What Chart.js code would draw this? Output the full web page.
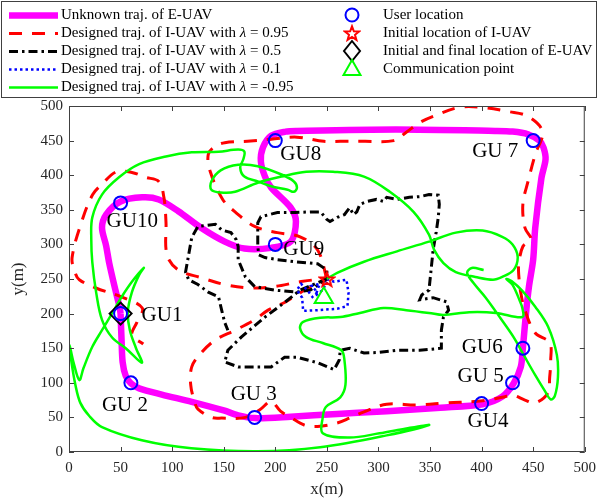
<!DOCTYPE html>
<html>
<head>
<meta charset="utf-8">
<script src="https://cdn.jsdelivr.net/npm/chart.js@4.4.0/dist/chart.umd.min.js"></script>
<style>
  html, body { margin: 0; padding: 0; background: #fff; }
</style>
</head>
<body>
<canvas id="trajChart" width="603" height="502"></canvas>
<script>
// ground users
const userNames = ['GU1', 'GU 2', 'GU 3', 'GU4', 'GU 5', 'GU6', 'GU 7', 'GU8', 'GU9', 'GU10'];
const userX = [50, 60, 180, 400, 430, 440, 450, 200, 200, 50];
const userY = [200, 100, 50, 70, 100, 150, 450, 450, 300, 360];

// special points
const iuavStart = [250, 250];
const euavStart = [50, 200];
const commPoint = [247, 223];

// unknown trajectory of the E-UAV
const euavPath = [[50,200],[51,160],[52,130],[55,110],[60,99],[68,92],[90,83],[119,72.5],[150,60],[164,53],[180,49],
  [215,51],[260,55],[308,59],[360,64],[401,69],[420,80],[431,99],[438,123],[440,150],[443,200],[446,240],[450,278],
  [452,324],[458,396],[462,423],[460,440],[456,450],[445,459],[430,463],[413,464],[317,466],[221,464],[210,463],
  [196,457],[188,440],[186,420],[190,398],[196,382],[215,353],[220,333],[215,304],[196,295],[170,294],[151,304],
  [128,324],[106,348],[87,365],[71,368],[50,362],[36,343],[32,324],[36,298],[39,273],[45,234],[49,210],[50,200]];

// designed I-UAV trajectory, lambda = 0.95
const path095 = [[250,250],[241,292],[224,311],[202,317],[180,326],[161,347],[149,365],[137,405],[135,430],[142,442],
  [151,447],[173,449],[196,452],[221,455],[247,449],[263,449],[286,449],[315,450],[327,462],[340,476],[353,485],
  [378,498],[401,498],[426,492],[445,485],[459,463],[452,430],[445,391],[440,358],[442,324],[448,307],[440,297],
  [436,271],[436,256],[438,230],[442,205],[452,172],[466,158],[467,133],[466,108],[464,85],[452,71],[442,75],
  [430,82],[420,79],[401,74],[366,71],[337,68],[308,69],[286,58],[272,49],[260,42],[241,37],[228,39],[215,50],
  [205,59],[196,73],[185,61],[171,50],[148,49],[138,50],[125,62],[122,71],[118,97],[119,123],[128,143],[142,162],
  [161,176],[180,191],[193,205],[209,216],[224,230],[241,243],[250,250],[224,246],[199,239],[176,237],[151,242],
  [128,252],[106,263],[95,285],[94,333],[92,368],[87,391],[74,397],[61,404],[46,405],[32,387],[23,372],[13,336],
  [3,281],[6,259],[10,249],[26,237],[51,224],[71,208],[66,188],[61,169],[72,156]];

// designed I-UAV trajectory, lambda = 0.5
const path05 = [[250,250],[224,234],[209,216],[190,195],[167,166],[154,147],[151,130],[164,123],[183,123],[196,123],
  [209,137],[221,137],[241,129],[257,119],[262,133],[263,147],[272,150],[286,143],[301,144],[318,147],[340,147],
  [361,150],[361,176],[363,195],[368,205],[366,217],[353,223],[340,220],[342,227],[349,234],[351,263],[353,292],
  [356,318],[358,339],[359,358],[358,371],[349,372],[340,369],[330,368],[318,365],[308,368],[305,362],[298,365],
  [289,362],[282,358],[279,347],[276,343],[272,353],[269,347],[267,343],[260,339],[253,333],[250,336],[244,347],
  [234,347],[219,346],[202,346],[186,340],[183,331],[183,314],[183,297],[184,285],[190,281],[202,278],[219,275],
  [241,272],[250,263],[250,250],[234,234],[221,231],[199,234],[180,239],[171,253],[164,278],[164,297],[162,307],
  [157,317],[148,321],[142,329],[125,326],[119,310],[116,285],[113,260],[116,249],[125,242],[135,231],[145,224],
  [148,205],[151,187],[154,176]];

// designed I-UAV trajectory, lambda = 0.1
const path01 = [[250,250],[257,246],[269,249],[271,230],[270,211],[260,207],[241,205],[227,204],[226,223],[221,234],
  [225,243],[231,234],[236,224],[241,231],[235,240],[243,243],[239,226],[246,234],[250,246]];

// designed I-UAV trajectory, lambda = -0.95
const pathM095 = [[250,250],[260,259],[286,275],[318,290],[349,304],[375,317],[401,320],[420,311],[430,300],[435,282],
  [431,263],[420,253],[411,249],[394,253],[375,260],[363,273],[354,292],[349,314],[334,347],[311,376],[286,398],
  [256,405],[230,405],[206,398],[183,389],[161,376],[147,375],[138,379],[138,391],[147,407],[164,415],[183,413],
  [206,401],[218,391],[221,382],[218,376],[212,379],[196,384],[183,391],[170,398],[166,411],[169,423],[170,434],
  [164,437],[145,434],[119,433],[94,427],[68,416],[48.5,397],[32,372],[22.6,339],[21.6,307],[22.6,274],[26.4,230],
  [32,191],[42,165],[55,150],[70.6,129],[65,150],[59,176],[57,202],[61,231],[68,256],[72.5,266],[61,246],[51,224],
  [42,201],[32,176],[22.6,152],[14,121],[10,104],[4.3,130],[0.5,155],[2.4,130],[6.2,97],[11,71],[19.7,52],[32,36],
  [70.6,17],[118.6,5.4],[183,1],[243.5,6.8],[308,24],[349,39],[327,34],[301,27],[272,21],[246,27],[246,50],[249,65],
  [263,79],[268,97],[267,133],[264,147],[246,157.5],[230,166],[224,179],[227,188],[243.5,194],[263,195],[282,201],
  [305,208],[327,205],[349,201],[363,198],[388,202],[414,201],[439.5,195],[439.5,208],[436.6,220],[430,241.6],
  [424,250],[429,247],[439.5,232.8],[452,210],[464.5,181],[473,140],[474,108],[471,81],[467,76],[461,89],[452,111],
  [442,137],[431,166],[418,194],[404,223],[392,244.5],[386,259],[390.5,266],[402,263]];

// axis ticks
const tickValues = [0, 50, 100, 150, 200, 250, 300, 350, 400, 450, 500];

const SERIF = '"Liberation Serif", "Times New Roman", serif';
const toXY = arr => arr.map(p => ({ x: p[0], y: p[1] }));

// red pentagram marker
function makeStar(size, color) {
    var c = document.createElement('canvas');
    c.width = size;
    c.height = size;
    var g = c.getContext('2d');
    var cx = size / 2, cy = size / 2 + 0.8, R = size / 2 - 1.5, r = R * 0.42;
    g.beginPath();
    for (var i = 0; i < 10; i++) {
        var a = -Math.PI / 2 + i * Math.PI / 5;
        var rr = i % 2 ? r : R;
        g.lineTo(cx + rr * Math.cos(a), cy + rr * Math.sin(a));
    }
    g.closePath();
    g.strokeStyle = color;
    g.lineWidth = 2;
    g.stroke();
    return c;
}
const starImg = makeStar(18, '#ff0000');

// label offsets (px) of the user names, relative to each circle
const labelDx = [21, -29, -24, -14, -55, -61, -61, 5, 8, -14];
const labelDy = [2, 23, -23, 18, -6, -1, 11, 14, 5, 19];

// text with an italic lambda, like the LaTeX legend
function drawLabel(ctx, text, x, y) {
    var parts = text.split('\u03bb');
    var normal = '15px ' + SERIF, italic = 'italic 15px ' + SERIF;
    ctx.font = normal;
    ctx.fillText(parts[0], x, y);
    if (parts.length < 2) return;
    x += ctx.measureText(parts[0]).width;
    ctx.font = italic;
    ctx.fillText('\u03bb', x, y);
    x += ctx.measureText('\u03bb').width;
    ctx.font = normal;
    ctx.fillText(parts[1], x, y);
}

// inward ticks, box, and user names
const boxPlugin = {
    id: 'matlabBox',
    afterDatasetsDraw(chart) {
        const ctx = chart.ctx;
        const a = chart.chartArea;
        const xs = chart.scales.x, ys = chart.scales.y;
        ctx.save();
        ctx.strokeStyle = '#404040';
        ctx.lineWidth = 1;
        ctx.setLineDash([]);
        ctx.strokeRect(a.left + 0.5, a.top + 0.5, a.right - a.left - 1, a.bottom - a.top - 1);
        ctx.beginPath();
        xs.ticks.forEach(function (t) {
            var px = Math.round(xs.getPixelForValue(t.value)) + 0.5;
            ctx.moveTo(px, a.bottom); ctx.lineTo(px, a.bottom - 5);
            ctx.moveTo(px, a.top); ctx.lineTo(px, a.top + 5);
        });
        ys.ticks.forEach(function (t) {
            var py = Math.round(ys.getPixelForValue(t.value)) + 0.5;
            ctx.moveTo(a.left, py); ctx.lineTo(a.left + 5, py);
            ctx.moveTo(a.right, py); ctx.lineTo(a.right - 5, py);
        });
        ctx.stroke();

        ctx.fillStyle = '#000';
        ctx.font = '21px ' + SERIF;
        ctx.textAlign = 'left';
        ctx.textBaseline = 'middle';
        userNames.forEach(function (name, i) {
            var px = xs.getPixelForValue(userX[i]) + labelDx[i];
            var py = ys.getPixelForValue(userY[i]) + labelDy[i];
            ctx.fillText(name, px, py);
        });
        ctx.restore();
    }
};

// legend box at the top
const legendPlugin = {
    id: 'boxLegend',
    afterDraw(chart) {
        const ctx = chart.ctx;
        const sets = chart.data.datasets;
        ctx.save();
        ctx.fillStyle = '#fff';
        ctx.fillRect(1, 1, 596, 96);
        ctx.strokeStyle = '#404040';
        ctx.lineWidth = 1;
        ctx.strokeRect(1.5, 1.5, 595, 96);

        ctx.textBaseline = 'middle';
        ctx.textAlign = 'left';
        const rows = [15, 33, 51, 69, 87];

        // line entries
        ['euav', 'l095', 'l05', 'l01', 'lm095'].forEach(function (key, i) {
            var d = sets.find(function (s) { return s.key === key; });
            var y = rows[i] + 0.5;
            ctx.strokeStyle = d.borderColor;
            ctx.lineWidth = d.borderWidth;
            ctx.setLineDash(d.borderDash || []);
            ctx.beginPath();
            ctx.moveTo(9, y);
            ctx.lineTo(58, y);
            ctx.stroke();
            ctx.setLineDash([]);
            ctx.fillStyle = '#000';
            drawLabel(ctx, d.label, 61, rows[i]);
        });

        // marker entries
        var mx = 352;
        ['users', 'start', 'euavStart', 'comm'].forEach(function (key, i) {
            var d = sets.find(function (s) { return s.key === key; });
            var y = rows[i];
            ctx.lineWidth = 2;
            ctx.strokeStyle = d.borderColor;
            ctx.beginPath();
            if (key === 'users') {
                ctx.arc(mx, y, 6.5, 0, Math.PI * 2);
                ctx.stroke();
            } else if (key === 'start') {
                ctx.drawImage(starImg, mx - 9, y - 9);
            } else if (key === 'euavStart') {
                ctx.moveTo(mx, y - 10); ctx.lineTo(mx + 8, y); ctx.lineTo(mx, y + 10); ctx.lineTo(mx - 8, y);
                ctx.closePath();
                ctx.stroke();
            } else {
                ctx.moveTo(mx, y - 9); ctx.lineTo(mx + 8.5, y + 6); ctx.lineTo(mx - 8.5, y + 6);
                ctx.closePath();
                ctx.stroke();
            }
            ctx.fillStyle = '#000';
            drawLabel(ctx, d.label, 383, y);
        });
        ctx.restore();
    }
};

const lineSet = (key, label, pts, color, width, dash, tension, order) => ({
    key: key,
    label: label,
    data: toXY(pts),
    showLine: true,
    borderColor: color,
    backgroundColor: color,
    borderWidth: width,
    borderDash: dash,
    tension: tension,
    pointRadius: 0,
    pointHoverRadius: 0,
    fill: false,
    order: order
});

const ctx = document.getElementById('trajChart').getContext('2d');
const chart = new Chart(ctx, {
    type: 'scatter',
    data: {
        datasets: [
            {
                key: 'users',
                label: 'User location',
                data: userX.map((x, i) => ({ x: x, y: userY[i] })),
                pointStyle: 'circle',
                pointRadius: 6.5,
                borderColor: '#0000ff',
                backgroundColor: 'rgba(0,0,0,0)',
                borderWidth: 2,
                order: 0
            },
            {
                key: 'start',
                label: 'Initial location of I-UAV',
                data: toXY([iuavStart]),
                pointStyle: starImg,
                pointRadius: 9,
                borderColor: '#ff0000',
                backgroundColor: 'rgba(0,0,0,0)',
                order: 0
            },
            {
                key: 'euavStart',
                label: 'Initial and final location of E-UAV',
                data: toXY([euavStart]),
                pointStyle: 'rectRot',
                pointRadius: 11,
                borderColor: '#000000',
                backgroundColor: 'rgba(0,0,0,0)',
                borderWidth: 2,
                order: 1
            },
            {
                key: 'comm',
                label: 'Communication point',
                data: toXY([commPoint]),
                pointStyle: 'triangle',
                pointRadius: 10.5,
                borderColor: '#00ff00',
                backgroundColor: 'rgba(0,0,0,0)',
                borderWidth: 2,
                order: 0
            },
            lineSet('lm095', 'Designed traj. of I-UAV with \u03bb = -0.95', pathM095, '#00ff00', 2.5, [], 0.35, 2),
            lineSet('l01', 'Designed traj. of I-UAV with \u03bb = 0.1', path01, '#0000ff', 2.5, [2.5, 3], 0, 3),
            lineSet('l05', 'Designed traj. of I-UAV with \u03bb = 0.5', path05, '#000000', 3, [9, 4, 2.5, 4], 0, 4),
            lineSet('l095', 'Designed traj. of I-UAV with \u03bb = 0.95', path095, '#ff0000', 3, [13, 10], 0.35, 5),
            lineSet('euav', 'Unknown traj. of E-UAV', euavPath, '#ff00ff', 6.5, [], 0.3, 6)
        ]
    },
    options: {
        responsive: false,
        animation: false,
        devicePixelRatio: 1,
        layout: { padding: { left: 0, top: 106, right: 13, bottom: 0 } },
        plugins: {
            legend: { display: false },
            tooltip: { enabled: false }
        },
        scales: {
            x: {
                type: 'linear',
                min: 0,
                max: 500,
                afterFit: function (s) { s.height = 50; },
                afterBuildTicks: function (s) { s.ticks = tickValues.map(v => ({ value: v })); },
                ticks: { font: { family: SERIF, size: 15 }, color: '#262626', padding: 7, maxRotation: 0 },
                grid: { display: false, drawTicks: false },
                border: { display: false },
                title: { display: true, text: 'x(m)', font: { family: SERIF, size: 17 }, color: '#262626', padding: { top: 0, bottom: 2 } }
            },
            y: {
                type: 'linear',
                min: 0,
                max: 500,
                afterFit: function (s) { s.width = 69; },
                afterBuildTicks: function (s) { s.ticks = tickValues.map(v => ({ value: v })); },
                ticks: { font: { family: SERIF, size: 15 }, color: '#262626', padding: 6 },
                grid: { display: false, drawTicks: false },
                border: { display: false },
                title: { display: true, text: 'y(m)', font: { family: SERIF, size: 17 }, color: '#262626', padding: { top: 8, bottom: 0 } }
            }
        }
    },
    plugins: [boxPlugin, legendPlugin]
});
</script>
</body>
</html>
